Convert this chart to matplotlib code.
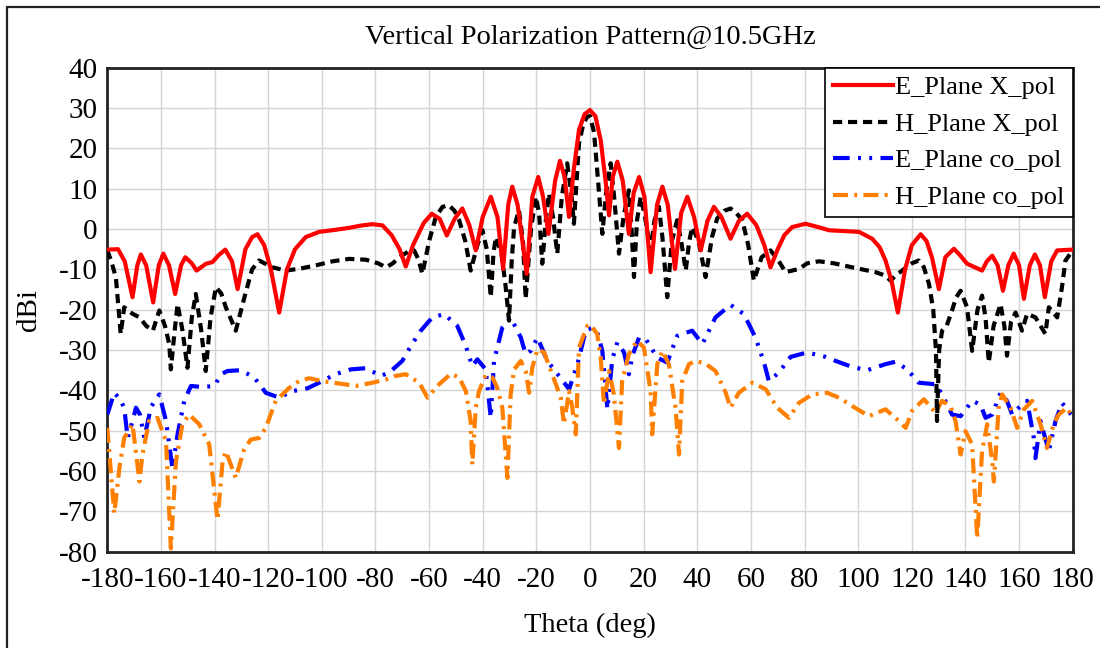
import matplotlib
matplotlib.use("Agg")
import matplotlib.pyplot as plt
from matplotlib.patches import Rectangle

# ---------------- data ----------------
e_x_theta = [-180, -176, -173.5, -170.6, -168.8, -167.5, -165.5, -162.9, -160.8, -159.1, -157, -154.7,
             -152.5, -150.9, -148.5, -146.7, -143.2, -140.8, -138.5, -136.0, -133.5, -131.4, -128.5, -126,
             -124.0, -121.5, -119, -115.9, -113, -110, -106, -101, -95, -89.8, -85, -81.1, -77.4, -74, -71,
             -68.7, -66, -62, -59.0, -56, -53.4, -50.5, -47.6, -45, -42.6, -40, -37.0, -34.5, -32.4, -30.5,
             -29.0, -27, -23.6, -21.5, -19.3, -17.5, -15.5, -13, -11.2, -9.5, -7.8, -6, -4.1, -2, 0, 2, 4,
             5.8, 7.1, 8.5, 10.2, 12.2, 14.5, 16.3, 18.3, 20.3, 22.6, 25, 27.0, 29, 31.7, 34, 36.3, 38.8,
             41.3, 43.8, 46.2, 49, 52.4, 55.5, 58.6, 62, 65, 67.3, 70, 72.5, 75.4, 80.4, 85, 89.1, 95, 100.3,
             105.2, 108, 110.2, 112.5, 114.8, 117.5, 120, 123.3, 125.5, 127.5, 130.1, 132.5, 135.7, 138,
             140.6, 146.2, 148, 150.0, 152, 154.0, 156, 158.0, 160, 161.8, 164, 165.9, 167.8, 169.6, 172,
             174.2, 180]
e_x_db = [-5.1, -5.0, -8, -16.9, -9, -6.3, -9, -18.2, -9, -6.1, -9, -16.1,
          -9, -7.0, -8.5, -10.3, -8.6, -8.2, -6.5, -5.1, -8, -14.9, -5, -2,
          -1.3, -4, -10, -20.7, -10, -5, -2.0, -0.7, -0.2, 0.3, 0.9, 1.2, 0.9, -1.5, -5,
          -9.3, -4, 1.5, 3.8, 2.5, -1.6, 2.5, 5.1, 1, -5.3, 3, 8.0, 3, -9.9, 6,
          10.5, 6, -11.1, 8, 12.9, 8, -1.2, 12, 16.9, 13, 3.0, 15, 24.6, 28.5, 29.5, 28, 22,
          12, 3.4, 13, 16.7, 12, -1.2, 9, 12.9, 8, -10.7, 6, 10.5, 6, -9.9, 4, 8.0, 3,
          -5.3, 2, 5.5, 3, -2.4, 2, 3.8, 1, -4, -9.5, -5, -1.5, 0.5, 1.3, 0.5, -0.3, -0.5, -0.7,
          -2.4, -4.5, -7.8, -13, -20.7, -10, -4, -1.3, -3, -7, -14.9, -7, -4.9, -6.5,
          -8.6, -10.3, -8, -6.6, -9, -15.3, -9, -6.1, -9, -17.3, -9, -6.3, -9, -16.9, -8,
          -5.3, -5.1]

h_x_theta = [-180, -178.5, -176.8, -175, -173.7, -170.6, -168, -165.5, -163, -160.6, -158.5, -156.9,
             -156.3, -155, -153.8, -152, -150.1, -148.5, -147, -145, -143.3, -141.5, -139.5, -137.5,
             -135.8, -132.1, -128.5, -126, -123.4, -118.4, -113.4, -108, -102.2, -96, -89.8, -83.6, -79,
             -76.1, -73.5, -71.2, -67.5, -65.6, -64, -62.5, -60, -57.5, -55, -52.6, -50.5, -48.8, -46.5,
             -44.5, -42, -40.1, -38.5, -37, -36, -35.1, -33, -31.5, -30.2, -29.2, -28.3, -26.5, -25, -24,
             -22, -20.2, -19, -17.8, -16.5, -15.3, -13.8, -12.2, -10.5, -8.5, -7, -6.0, -5, -4.1, -2.5,
             -1, 0, 1.5, 3, 4.6, 6, 7.7, 9, 10.8, 12.5, 14.5, 15.5, 16.4, 17.5, 18.9, 20.5, 22.6, 24,
             25.7, 27, 28.8, 30.5, 32.5, 34, 35.7, 37, 38.1, 40.5, 43.1, 45.5, 47.4, 50, 52.4, 54.5, 56.8,
             59, 61.1, 64, 67.3, 70, 72.9, 77.9, 81, 85.4, 91, 97.8, 106.5, 110, 112.1, 114, 116.4, 120,
             122.6, 124.5, 126.4, 128, 129, 129.4, 130.2, 131.3, 133, 135, 136.5, 138.2, 140.6, 142.5,
             144.5, 146.2, 147.5, 148.7, 150.5, 153.1, 154.5, 155.5, 157, 158.7, 161.1, 163, 166.1, 168,
             169.8, 171.1, 172.5, 174.2, 176, 177.3, 180]
h_x_db = [-5.3, -8, -12, -26, -19.4, -21, -21.9, -24, -25.2, -20.2, -24, -28.5,
          -34.8, -26, -18.6, -25, -34.4, -22, -16.1, -25, -35.2, -22, -14.4, -16,
          -19.4, -25.2, -16, -10, -7.8, -9.5, -10.3, -9.8, -9.0, -8, -7.4, -7.6, -8.5,
          -9.5, -8.5, -7, -5.5, -5.3, -7.5, -11.1, -3, 3.0, 5.5, 5.9, 4.5, 2.2, -3,
          -10.3, -4, -0.3, -5, -16.9, -6, -2, -6, -14, -22.7, -8, 0.5, 4.7, -3, -17.3,
          0, 8.0, 4, -8.6, 2, 8.8, 3, -6.1, 8, 16.3, 9, 1.3, 12, 21.3, 26,
          27.9, 28, 24, 12, -1.2, 9, 16.3, 8, -6.1, 3, 9.6, 0, -11.9, 2, 8.0, 3, -5.3, 2,
          5.5, -2, -16.9, -3, 2.2, -3, -10.3, -3, 0.5, -3, -11.9, -2, 2.6, 4.5, 5.1, 4, 2.2,
          -4, -12.8, -7, -5.3, -7.5, -10.7, -9.9, -8.5, -8.0, -8.5, -9.5, -10.7, -11.5, -12.8, -11.5, -10.3, -8.5,
          -7.8, -9.5, -13.6, -20, -30, -47.6, -30, -25.2, -24, -20.2, -17, -15.3, -19.4, -30.2,
          -20, -16.5, -22, -33.1, -24, -18.6, -24, -31.4, -23, -20.7, -25.2, -21, -21.9, -24,
          -26, -19.4, -20.5, -21.9, -14.4, -7.8, -5.3]

e_co_theta = [-180, -177.4, -175.5, -173.7, -172.4, -170.6, -169.3, -167.8, -166.2, -163.7, -160.6, -158.1,
              -155.7, -153.8, -151.3, -148.8, -144.5, -140.1, -137.5, -135.2, -130.2, -125.2, -120.9, -115.9,
              -111.0, -105.4, -101.0, -95, -89.2, -83.6, -78, -74.9, -70, -66.8, -63.1, -58.8, -54.4, -49.5,
              -46.3, -43.9, -42, -38.9, -37, -35.8, -32.7, -29.6, -25.8, -24, -22.1, -19.6, -15.9, -11.6,
              -7.8, -4.7, -1.5, 1, 2.7, 4.6, 6.5, 8.3, 10.2, 12.7, 14.5, 15.8, 18.3, 20.8, 25.1, 28.8, 32.5,
              38.1, 41.9, 46.8, 52.4, 57.4, 61.7, 64.9, 66.7, 70.4, 74.8, 81, 87.8, 91.6, 97.8, 103.4, 110.2,
              113.9, 118.3, 122.6, 128.9, 131.3, 135, 138.2, 142.5, 145.6, 147.5, 150, 153.1, 155.5, 157.4,
              159.9, 163, 165.5, 166.1, 168, 171.1, 173.6, 176, 180]
e_co_db = [-46.0, -40.6, -42, -44.3, -51.8, -47.6, -44.3, -46, -51.8, -44.1, -41.0, -47.6,
           -59.3, -50.9, -42.6, -38.9, -39.2, -38.9, -36, -35.2, -35.0, -36.8, -40.6, -41.8,
           -40.2, -39.5, -38.1, -36, -34.8, -34.5, -36.4, -35.6, -32.7, -29, -25.2, -21.9, -21.1, -24,
           -29, -34, -32.3, -34.8, -46.8, -32.7, -24.4, -21.9, -26.9, -31, -30.2, -26.9, -32.7, -36.4,
           -39.7, -33.5, -25, -24.5, -25.6, -30.2, -44.7, -32.3, -28.1, -30.6, -36, -31.4, -26.9, -27.3, -31.9, -33.1, -26.5,
           -25.2, -28.5, -21.9, -18.8, -21.1, -26.9, -33.1, -37.7, -35.6, -31.7, -30.6, -31.7, -32.7, -34.2, -35.0, -33.5,
           -32.9, -34.8, -38.1, -38.5, -41, -46, -46.4, -42.6, -43.5, -46.8, -46, -40.6, -42.6, -46,
           -44.3, -42.6, -51.8, -56.8, -47.6, -55.1, -47.6, -43.1, -46.5]

h_co_theta = [-180, -178.6, -177.4, -175.5, -173.7, -170.6, -168, -166.9, -164.4, -161.3, -158.1, -156.3,
              -154.4, -152, -149.5, -145.7, -142, -138.9, -137, -135.8, -132.1, -129, -126.5, -123.4, -120.9,
              -117.2, -112.2, -108.5, -104.7, -99.8, -93.6, -87.3, -81.1, -76.1, -72.4, -68.7, -63.7, -60.6,
              -56.3, -51.9, -48.8, -46.3, -44.5, -43.9, -42.6, -41.4, -38.9, -36.4, -34.6, -32.7, -30.8,
              -29.6, -28.3, -25.8, -24, -22.7, -21.5, -19.6, -17.1, -14.1, -10.9, -9.7, -7.8, -6.6, -5.3,
              -4.1, -1, 0, 2.7, 4, 5.2, 7.1, 8.9, 10.8, 12, 14.5, 17.6, 20.1, 22.6, 23.2, 25.1, 27, 29.4,
              31.9, 33.2, 34.4, 36.9, 39.4, 43.1, 46.8, 50.6, 52.4, 55.5, 60.5, 65.5, 69.8, 74.2, 77.9, 82.9,
              88.4, 92.8, 97.8, 104, 110.2, 115.2, 117.7, 120.1, 124.5, 128.8, 131.3, 134.4, 136.3, 138.2,
              140, 142.5, 144.4, 146.2, 148.1, 150, 150.6, 152.4, 153.7, 156.8, 159.3, 161.8, 164.9, 168,
              170.4, 172.9, 174.8, 177.9, 180]
h_co_db = [-49.3, -60.9, -70.5, -59.3, -51.8, -48.4, -62.6, -55.9, -47.6, -46.8, -52.6, -79.2,
           -57.6, -48.4, -46, -48.4, -53.4, -72.1, -57.6, -55.1, -61.7, -54.7, -52.2, -51.8, -49.3,
           -42.6, -39.4, -37.7, -37.0, -37.7, -38.3, -38.9, -38.1, -37.3, -36.4, -36, -38.1, -41.8,
           -38.5, -35.9, -36.8, -40.2, -47.6, -58.4, -44.3, -40.2, -36.2, -36.8, -39.3, -44.3, -61.7,
           -41, -34.8, -32.7, -35.2, -40.6, -34.3, -29.8, -30.6, -36, -41.8, -48.4, -40.2, -44.3, -50.9,
           -29.4, -24, -23.6, -26, -31.9, -43.5, -35.2, -41, -54.3, -37.7, -31, -27.7, -29.4, -40.2, -50.9, -33.5, -30.2, -33.5,
           -44.3, -55.9, -37.7, -33.5, -32.7, -33.4, -35.2, -40.6, -44.3, -40.6, -38.1, -39.7, -44.3, -46.8, -43.1, -41,
           -40.6, -41.8, -43.9, -46.4, -44.7, -47.6, -49.3, -45.1, -42.2, -45.5, -42.6, -43.9, -47.6, -55.9,
           -50.1, -53.4, -76.7, -55.1, -48.4, -57.6, -62.6, -44.3, -41, -44.3, -49.3, -44.7, -42.6, -48.4,
           -54.3, -48.4, -46, -44.3, -46.8]

series_labels = ["E_Plane X_pol", "H_Plane X_pol", "E_Plane co_pol", "H_Plane co_pol"]
x_ticks = list(range(-180, 181, 20))
y_ticks = list(range(-80, 41, 10))
title = "Vertical Polarization Pattern@10.5GHz"

# ---------------- figure ----------------
plt.rcParams['font.family'] = ['Liberation Serif', 'DejaVu Serif']
plt.rcParams['axes.unicode_minus'] = False
fig = plt.figure(figsize=(11.0, 6.48), dpi=100)
fig.patch.set_facecolor('white')
# outer frame (left/top visible, right/bottom clipped)
fig.add_artist(Rectangle((7 / 1100, -0.05), 1.2, 1 - 7 / 648 + 0.05, transform=fig.transFigure,
                         fill=False, edgecolor='#222222', linewidth=1.6))

ax = fig.add_axes([107.3 / 1100, 1 - 551.7 / 648, (1072.7 - 107.3) / 1100, (551.7 - 67.7) / 648])

ax.plot(e_x_theta, e_x_db, color='#ff0000', lw=3.0, label=series_labels[0], zorder=5)
ax.plot(h_x_theta, h_x_db, color='black', lw=3.0, linestyle=(0, (2.2, 1.4)), label=series_labels[1], zorder=4)
ax.plot(e_co_theta, e_co_db, color='#0000ff', lw=3.0, linestyle=(0, (4.0, 2.0, 0.7, 2.0, 0.7, 2.0)),
        label=series_labels[2], zorder=3)
ax.plot(h_co_theta, h_co_db, color='#ff8000', lw=3.0, linestyle=(0, (3.6, 1.5, 0.7, 1.5)),
        label=series_labels[3], zorder=3)

ax.set_xlim(-180, 180)
ax.set_ylim(-80, 40)
ax.set_xticks(x_ticks)
ax.set_yticks(y_ticks)
ax.tick_params(axis='both', length=0, labelsize=21)
ax.tick_params(axis='x', pad=11)
ax.tick_params(axis='y', pad=7)
ax.grid(True, color='#d4d4d4', lw=1.0)
ax.set_axisbelow(True)
for s in ax.spines.values():
    s.set_linewidth(2.0)
    s.set_color('#222222')

ax.set_title(title, fontsize=20.5, pad=17)
ax.set_xlabel("Theta (deg)", fontsize=20.5, labelpad=14)
ax.set_ylabel("dBi", fontsize=21, labelpad=12)

leg = ax.legend(loc='upper right', fontsize=19, frameon=True, fancybox=False, framealpha=1,
                borderaxespad=0.0, handlelength=2.25, handletextpad=0.1, labelspacing=0.5,
                borderpad=0.3)
leg.get_frame().set_edgecolor('black')
leg.get_frame().set_linewidth(1.2)

fig.savefig("out.png", dpi=100)
